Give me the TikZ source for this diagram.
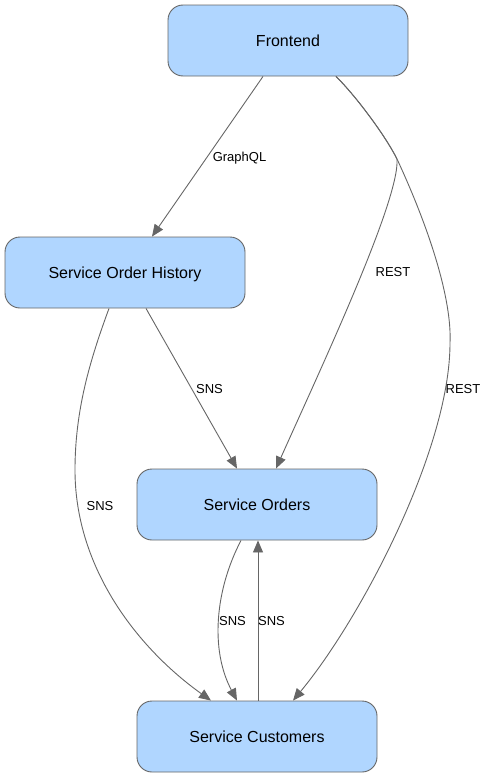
\documentclass[tikz,border=0pt]{standalone}
\usepackage{fontspec}
\setmainfont{Liberation Sans}
\usetikzlibrary{arrows.meta}
\definecolor{boxfill}{RGB}{176,214,255}
\definecolor{edgegray}{RGB}{102,102,102}
\begin{document}
\begin{tikzpicture}[x=1pt,y=-1pt,
  svc/.style={draw=edgegray, fill=boxfill, line width=0.9pt, rounded corners=15pt,
    minimum width=240pt, minimum height=71pt, inner sep=0pt, text depth=0pt,
    font=\fontsize{16}{19}\selectfont},
  conn/.style={draw=edgegray, line width=0.9pt, -{Triangle[length=12pt,width=10pt]}},
  lbl/.style={font=\fontsize{13}{15}\selectfont, inner sep=0pt, text depth=0pt}]
\useasboundingbox (0,0) rectangle (487,779);
\node[svc] (fe) at (288,40.5) {Frontend};
\node[svc] (soh) at (125,272.5) {Service Order History};
\node[svc] (so) at (257,504.5) {Service Orders};
\node[svc] (sc) at (257,736.5) {Service Customers};

\coordinate (kink) at (397,159);
\coordinate (farright) at (450,343);
\coordinate (farleft) at (75,470);

\draw[conn] ([xshift=-25pt]fe.south) -- ([xshift=27pt]soh.north);
\draw[conn] ([xshift=48pt]fe.south) .. controls (355,95) and (385,135) .. (kink)
  .. controls (400,200) and (320,370) .. ([xshift=19pt]so.north);
\draw[conn] ([xshift=48pt]fe.south) .. controls (355,95) and (385,135) .. (kink)
  .. controls (430,230) and (452,300) .. (farright)
  .. controls (450,450) and (360,620) .. ([xshift=36pt]sc.north);
\draw[conn] ([xshift=21pt]soh.south) -- ([xshift=-20pt]so.north);
\draw[conn] ([xshift=-16pt]soh.south) .. controls (90,360) and (75,410) .. (farleft)
  .. controls (75,570) and (140,650) .. ([xshift=-46pt]sc.north);
\draw[conn] ([xshift=-16pt]so.south) .. controls (215,590) and (210,650) .. ([xshift=-20pt]sc.north);
\draw[conn] ([xshift=1pt]sc.north) -- ([xshift=1pt]so.south);

\node[lbl] (l1) at (239.5,157) {GraphQL};
\node[lbl] (l2) at (393,272) {REST};
\node[lbl] (l3) at (463,389) {REST};
\node[lbl] (l4) at (209.5,389) {SNS};
\node[lbl] (l5) at (100,505.5) {SNS};
\node[lbl] (l6) at (232.5,621) {SNS};
\node[lbl] (l7) at (271.5,621) {SNS};
\end{tikzpicture}
\end{document}
